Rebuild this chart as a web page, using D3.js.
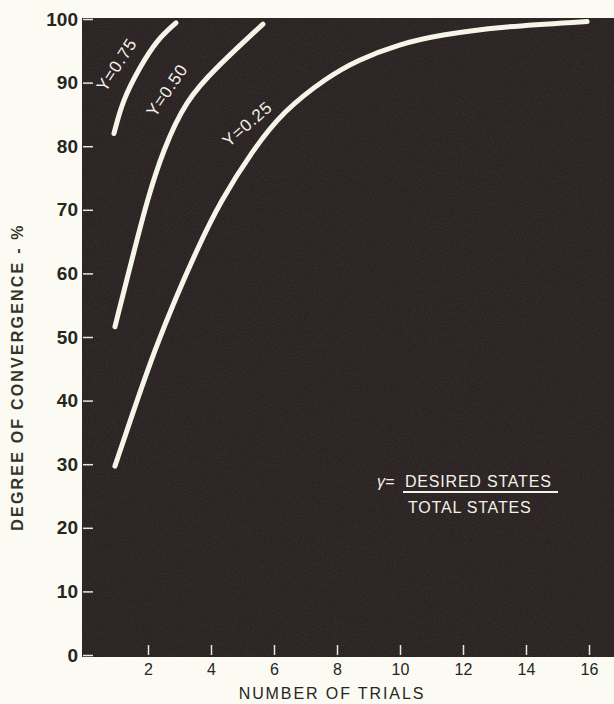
<!DOCTYPE html>
<html>
<head>
<meta charset="utf-8">
<script src="https://cdn.jsdelivr.net/npm/d3@7"></script>
<style>
  body { margin: 0; background: #fbfbf3; }
  svg { display: block; }
</style>
</head>
<body>
<script>
var width = 614,
    height = 704;

// curve data: [trials, degree of convergence %]
var gamma75 = [[0.92, 82], [1.2, 87.3], [1.75, 92.5], [2.28, 96.7], [2.89, 99.4]];
var gamma50 = [[0.95, 51.6], [1.46, 61.6], [1.97, 71.5], [2.48, 79.4], [3.21, 87.3],
               [4.19, 92.5], [5.65, 99.2]];
var gamma25 = [[0.95, 29.7], [1.65, 40], [2.22, 48], [2.85, 55.8], [3.55, 63.7], [4.29, 71.3],
               [5.33, 79.4], [6.29, 85.5], [7.68, 90.8], [8.63, 93.5], [10, 96.1],
               [11.27, 97.5], [13.17, 98.8], [15.94, 99.6]];

var curveNames = ["Y=0.75", "Y=0.50", "Y=0.25"];
// label anchor (data coords) and angle
var labelPos = [[1.0, 92.8], [2.6, 88.8], [5.15, 83.5]];
var labelAngle = [-57, -56, -41];

var xTicks = [2, 4, 6, 8, 10, 12, 14, 16];
var yTicks = [0, 10, 20, 30, 40, 50, 60, 70, 80, 90, 100];

var svg = d3.select("body").append("svg")
    .attr("width", width)
    .attr("height", height);

var x = d3.scaleLinear().domain([0, 16]).range([85, 589]);
var y = d3.scaleLinear().domain([0, 100]).range([655, 19]);

// grainy photo texture
var defs = svg.append("defs");
var f = defs.append("filter").attr("id", "grain").attr("x", 0).attr("y", 0).attr("width", 1).attr("height", 1);
f.append("feTurbulence").attr("type", "fractalNoise").attr("baseFrequency", 0.9).attr("numOctaves", 2).attr("seed", 3);
f.append("feColorMatrix").attr("type", "matrix")
    .attr("values", "0 0 0 0 0.45  0 0 0 0 0.38  0 0 0 0 0.38  0 0 0 0.55 -0.2");

// plot background
svg.append("rect")
    .attr("x", 82).attr("y", 18)
    .attr("width", width - 82).attr("height", 657 - 18)
    .attr("fill", "#2b2323");
svg.append("rect")
    .attr("x", 82).attr("y", 18)
    .attr("width", width - 82).attr("height", 657 - 18)
    .attr("filter", "url(#grain)")
    .attr("opacity", 0.35);

// axes
var yAxis = d3.axisLeft(y)
    .tickValues(yTicks)
    .tickSize(-10)
    .tickPadding(5)
    .tickFormat(d3.format("d"));

var gy = svg.append("g")
    .attr("transform", "translate(83,0)")
    .call(yAxis);
gy.select(".domain").remove();
gy.selectAll(".tick line").attr("stroke", "#e8e6dc").attr("stroke-width", 1.5);
gy.selectAll(".tick text")
    .attr("fill", "#26261e")
    .style("font-family", "'Liberation Sans', Arial, sans-serif")
    .style("font-weight", "bold")
    .style("font-size", "19px");

var xAxis = d3.axisBottom(x)
    .tickValues(xTicks)
    .tickSize(-10)
    .tickPadding(9);

var gx = svg.append("g")
    .attr("transform", "translate(0,655)")
    .call(xAxis);
gx.select(".domain").remove();
gx.selectAll(".tick line").attr("stroke", "#e8e6dc").attr("stroke-width", 1.5);
gx.selectAll(".tick text")
    .attr("fill", "#26261e")
    .style("font-family", "'Liberation Sans', Arial, sans-serif")
    .style("font-size", "16px");

// axis titles
svg.append("text")
    .attr("x", 332).attr("y", 699)
    .attr("text-anchor", "middle")
    .attr("fill", "#26261e")
    .style("font-family", "'Liberation Sans', Arial, sans-serif")
    .style("font-size", "16px")
    .style("letter-spacing", "1.9px")
    .text("NUMBER OF TRIALS");

svg.append("text")
    .attr("transform", "translate(23,377) rotate(-90)")
    .attr("text-anchor", "middle")
    .attr("fill", "#34352a")
    .style("font-family", "'Liberation Sans', Arial, sans-serif")
    .style("font-weight", "bold")
    .style("font-size", "16px")
    .style("letter-spacing", "2.2px")
    .text("DEGREE OF CONVERGENCE - %");

// curves
var line = d3.line()
    .x(function(d) { return x(d[0]); })
    .y(function(d) { return y(d[1]); })
    .curve(d3.curveBasis);

svg.selectAll(".curve")
    .data([gamma75, gamma50, gamma25])
    .enter().append("path")
    .attr("class", "curve")
    .attr("d", line)
    .attr("fill", "none")
    .attr("stroke", "#f6f5ea")
    .attr("stroke-width", 5)
    .attr("stroke-linecap", "round");

// curve labels
svg.selectAll(".clabel")
    .data(curveNames)
    .enter().append("text")
    .attr("class", "clabel")
    .attr("transform", function(d, i) {
        return "translate(" + x(labelPos[i][0]) + "," + y(labelPos[i][1]) + ") rotate(" + labelAngle[i] + ")";
    })
    .attr("text-anchor", "middle")
    .attr("dy", "0.35em")
    .attr("fill", "#f3f2e8")
    .style("font-family", "'Liberation Sans', Arial, sans-serif")
    .style("font-size", "17px")
    .style("letter-spacing", "0.8px")
    .text(function(d) { return d; });

// legend: gamma = desired / total
var lg = svg.append("g")
    .attr("fill", "#f3f2e8")
    .style("font-family", "'Liberation Sans', Arial, sans-serif")
    .style("font-size", "16px");
lg.append("text")
    .attr("x", 377).attr("y", 487)
    .style("font-style", "italic")
    .text("γ=");
lg.append("text")
    .attr("x", 405).attr("y", 487)
    .style("letter-spacing", "0.8px")
    .text("DESIRED STATES");
lg.append("line")
    .attr("x1", 403).attr("x2", 558)
    .attr("y1", 492).attr("y2", 492)
    .attr("stroke", "#f3f2e8")
    .attr("stroke-width", 2);
lg.append("text")
    .attr("x", 408).attr("y", 513)
    .style("letter-spacing", "0.8px")
    .text("TOTAL STATES");
</script>
</body>
</html>
